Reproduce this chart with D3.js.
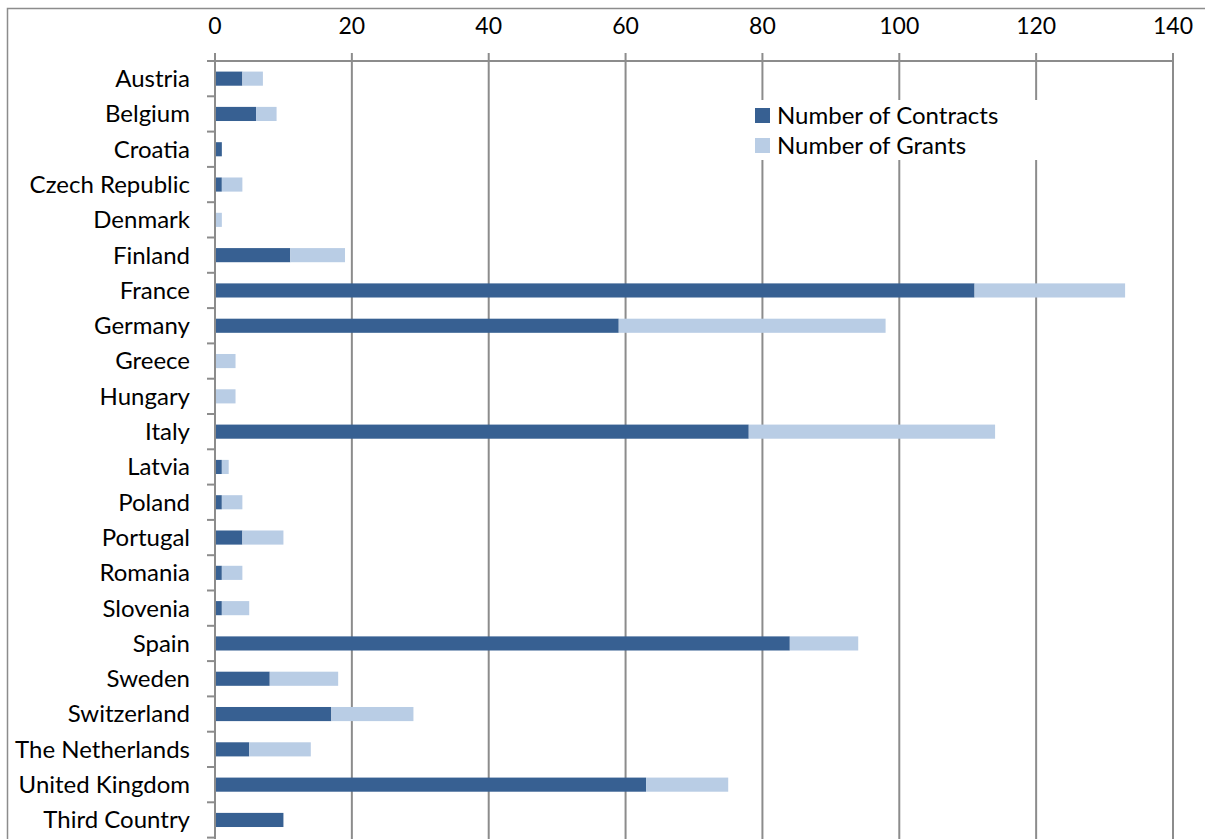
<!DOCTYPE html>
<html>
<head>
<meta charset="utf-8">
<script src="https://cdn.jsdelivr.net/npm/d3@7"></script>
<style>
  html, body { margin: 0; padding: 0; background: #fff; }
  svg { display: block; }
  text { font-family: Lato, "Open Sans", sans-serif; fill: #000; }
</style>
</head>
<body>
<svg id="chart" width="1205" height="839"></svg>
<script>
// Participation by country: contracts and grants (stacked)
const countries = ["Austria", "Belgium", "Croatia", "Czech Republic", "Denmark", "Finland",
  "France", "Germany", "Greece", "Hungary", "Italy", "Latvia", "Poland", "Portugal",
  "Romania", "Slovenia", "Spain", "Sweden", "Switzerland", "The Netherlands",
  "United Kingdom", "Third Country"];
const contracts = [4, 6, 1, 1, 0, 11, 111, 59, 0, 0, 78, 1, 1, 4, 1, 1, 84, 8, 17, 5, 63, 10];
const grants    = [3, 3, 0, 3, 1, 8, 22, 39, 3, 3, 36, 1, 3, 6, 3, 4, 10, 10, 12, 9, 12, 0];
const seriesNames = ["Number of Contracts", "Number of Grants"];
const seriesColors = ["#376092", "#b9cde5"];
const xTicks = [0, 20, 40, 60, 80, 100, 120, 140];

const svg = d3.select("#chart");
const gridColor = "#8c8c8c";

const x = d3.scaleLinear().domain([0, 140]).range([215, 1173]);
const y = d3.scaleBand().domain(countries).range([61, 837.6])
  .paddingInner(0.6).paddingOuter(0.3);
const step = y.step();

// outer frame (top and left edges)
svg.append("path")
  .attr("d", "M7.5,839 V8.5 H1205")
  .attr("fill", "none").attr("stroke", gridColor).attr("stroke-width", 1.5);

// vertical gridlines with tick extension above the axis
svg.append("g").selectAll("line").data(xTicks.slice(1)).join("line")
  .attr("x1", d => x(d)).attr("x2", d => x(d))
  .attr("y1", 53).attr("y2", 839)
  .attr("stroke", gridColor).attr("stroke-width", 2);

// stacked bars
const rows = countries.map((c, i) => ({ c, a: contracts[i], b: grants[i] }));
const gBars = svg.append("g");
gBars.selectAll("rect.con").data(rows).join("rect")
  .attr("class", "con")
  .attr("x", x(0)).attr("y", d => y(d.c))
  .attr("width", d => x(d.a) - x(0)).attr("height", y.bandwidth())
  .attr("fill", seriesColors[0]);
gBars.selectAll("rect.gr").data(rows).join("rect")
  .attr("class", "gr")
  .attr("x", d => x(d.a)).attr("y", d => y(d.c))
  .attr("width", d => x(d.a + d.b) - x(d.a)).attr("height", y.bandwidth())
  .attr("fill", seriesColors[1]);

// top value axis
const topAxis = svg.append("g");
topAxis.append("line")
  .attr("x1", 207).attr("x2", x(140)).attr("y1", 61).attr("y2", 61)
  .attr("stroke", gridColor).attr("stroke-width", 2);
topAxis.selectAll("text").data(xTicks).join("text")
  .attr("x", d => x(d)).attr("y", 34)
  .attr("text-anchor", "middle")
  .attr("font-size", 23)
  .text(d => d);

// category axis
const catAxis = svg.append("g");
catAxis.append("line")
  .attr("x1", x(0)).attr("x2", x(0)).attr("y1", 53).attr("y2", 839)
  .attr("stroke", gridColor).attr("stroke-width", 2);
catAxis.selectAll("line.tick").data(countries).join("line")
  .attr("class", "tick")
  .attr("x1", 207).attr("x2", x(0))
  .attr("y1", d => y(d) - y.bandwidth() * 0.75 + step)
  .attr("y2", d => y(d) - y.bandwidth() * 0.75 + step)
  .attr("stroke", gridColor).attr("stroke-width", 2);
catAxis.selectAll("text").data(countries).join("text")
  .attr("x", 190)
  .attr("y", d => y(d) + y.bandwidth() / 2)
  .attr("dy", "0.35em")
  .attr("text-anchor", "end")
  .attr("font-size", 24)
  .text(d => d);

// legend
const legend = svg.append("g");
legend.append("rect")
  .attr("x", 745).attr("y", 100).attr("width", 300).attr("height", 60)
  .attr("fill", "#fff");
seriesNames.forEach((name, i) => {
  legend.append("rect")
    .attr("x", 755).attr("y", 108 + i * 30).attr("width", 15).attr("height", 15)
    .attr("fill", seriesColors[i]);
  legend.append("text")
    .attr("x", 777).attr("y", 115.5 + i * 30).attr("dy", "0.35em")
    .attr("font-size", 24)
    .text(name);
});
</script>
</body>
</html>
